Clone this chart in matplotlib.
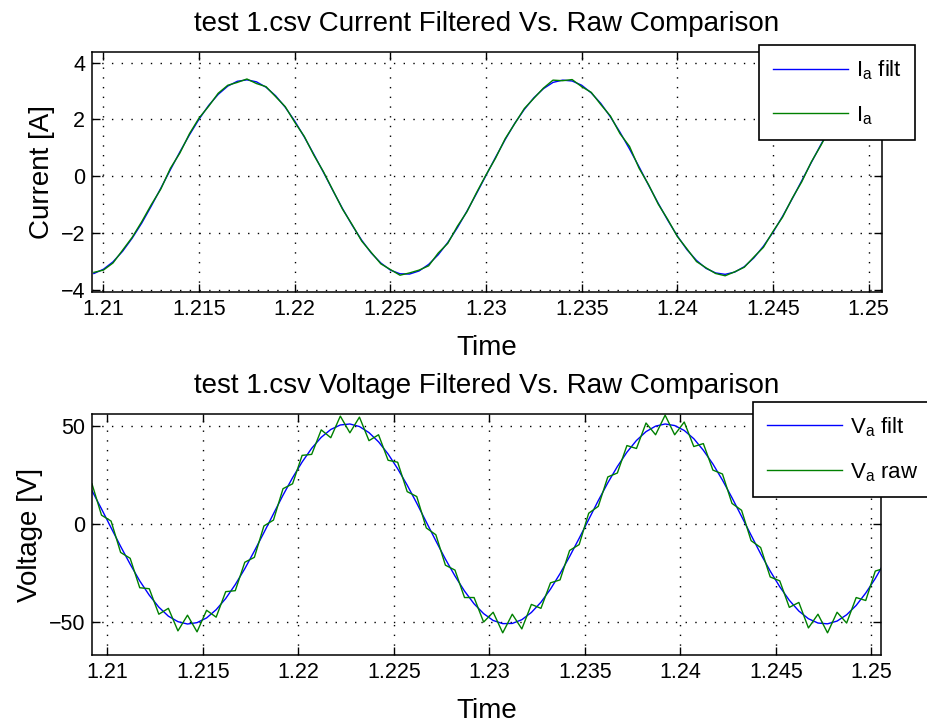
import numpy as np
import matplotlib
matplotlib.use("Agg")
import matplotlib.pyplot as plt

plt.rcParams['font.family'] = ['Liberation Sans', 'DejaVu Sans']

# current (top), sampled every 0.5 ms from t = 1.2095
I_t0 = 1.2095
I_filt = [-3.42, -3.27, -3.01, -2.64, -2.18, -1.65, -1.05, -0.42, 0.23, 0.86, 1.46, 2.01, 2.49, 2.88,
          3.17, 3.34, 3.39, 3.32, 3.13, 2.83, 2.43, 1.94, 1.38, 0.77, 0.14, -0.51, -1.14, -1.72,
          -2.25, -2.70, -3.05, -3.30, -3.43, -3.44, -3.33, -3.10, -2.76, -2.33, -1.81, -1.23, -0.61,
          0.03, 0.67, 1.29, 1.86, 2.35, 2.76, 3.08, 3.30, 3.38, 3.35, 3.20, 2.93, 2.56, 2.09, 1.55,
          0.96, 0.33, -0.32, -0.95, -1.55, -2.10, -2.58, -2.96, -3.24, -3.40, -3.45, -3.37, -3.18,
          -2.87, -2.46, -1.97, -1.41, -0.80, -0.16, 0.48, 1.11, 1.70, 2.22, 2.66, 3.01, 3.25, 3.38]
I_raw = [-3.38, -3.30, -3.05, -2.60, -2.15, -1.60, -1.00, -0.45, 0.28, 0.82, 1.50, 2.05, 2.46, 2.92,
         3.20, 3.30, 3.42, 3.26, 3.15, 2.80, 2.45, 1.90, 1.40, 0.74, 0.16, -0.50, -1.16, -1.70,
         -2.28, -2.68, -3.08, -3.28, -3.48, -3.40, -3.30, -3.15, -2.70, -2.36, -1.76, -1.25, -0.58,
         0.05, 0.64, 1.32, 1.85, 2.38, 2.74, 3.10, 3.38, 3.36, 3.40, 3.15, 2.95, 2.52, 2.12, 1.50,
         1.05, 0.28, -0.30, -0.98, -1.52, -2.12, -2.55, -3.00, -3.22, -3.42, -3.50, -3.36, -3.20,
         -2.84, -2.50, -1.94, -1.44, -0.78, -0.20, 0.50, 1.08, 1.72, 2.20, 2.68, 2.98, 3.27, 3.36]

# voltage (bottom), sampled every 0.5 ms from t = 1.2092
V_t0 = 1.2092
V_filt = [17.0, 7.7, -1.9, -11.4, -20.5, -29.0, -36.3, -42.4, -47.0, -49.8, -51.0, -50.3, -47.9, -43.7,
          -38.0, -30.9, -22.8, -13.8, -4.4, 5.2, 14.7, 23.6, 31.6, 38.6, 44.2, 48.2, 50.5, 51.0,
          49.7, 46.6, 41.9, 35.7, 28.2, 19.8, 10.6, 1.0, -8.6, -17.9, -26.5, -34.2, -40.7, -45.7,
          -49.2, -50.8, -50.7, -48.8, -45.1, -39.9, -33.2, -25.3, -16.6, -7.3, 2.3, 11.9, 21.0,
          29.3, 36.6, 42.6, 47.1, 49.9, 51.0, 50.2, 47.7, 43.5, 37.6, 30.6, 22.4, 13.4, 3.9, -5.7,
          -15.2, -24.0, -32.0, -38.9, -44.4, -48.3, -50.5, -50.9, -49.5, -46.3, -41.5, -35.2, -27.8, -19.2]
V_raw = [20.5, 4.5, 1.5, -14.5, -17.5, -32.5, -33.0, -46.0, -43.0, -54.5, -46.5, -55.0, -44.0, -47.5,
         -34.5, -34.0, -19.5, -17.0, -1.0, 2.0, 18.0, 20.5, 35.0, 35.5, 48.0, 44.0, 55.0, 46.5,
         54.5, 42.5, 45.5, 32.5, 31.5, 16.5, 14.0, -2.0, -5.5, -21.0, -23.5, -37.5, -37.5, -50.0,
         -45.0, -55.5, -46.0, -53.5, -41.0, -43.0, -30.0, -28.5, -13.5, -10.5, 5.5, 9.0, 24.0,
         26.0, 40.0, 38.5, 51.5, 45.5, 55.5, 45.5, 52.0, 39.5, 41.0, 27.5, 25.5, 10.5, 7.0, -8.5,
         -12.0, -27.0, -29.0, -42.5, -40.0, -53.0, -46.0, -55.5, -45.0, -50.5, -37.5, -39.0, -24.0, -22.5]

dt = 0.0005
I_t = I_t0 + dt * np.arange(len(I_filt))
V_t = V_t0 + dt * np.arange(len(V_filt))

x_ticks = [1.21, 1.215, 1.22, 1.225, 1.23, 1.235, 1.24, 1.245, 1.25]
x_labels = ['1.21', '1.215', '1.22', '1.225', '1.23', '1.235', '1.24', '1.245', '1.25']

fig = plt.figure(figsize=(9.27, 7.24), dpi=100)
ax1 = fig.add_axes([0.0992, 0.5967, 0.8523, 0.3315])
ax2 = fig.add_axes([0.0992, 0.0953, 0.8512, 0.3329])

blue = (0, 0, 1)
green = (0, 0.5, 0)


def style(ax):
    ax.set_xticks(x_ticks)
    ax.set_xticklabels(x_labels)
    ax.tick_params(direction='in', top=True, right=True, length=6, width=1, labelsize=15.5, pad=5)
    ax.grid(True, linestyle=(0, (1, 6)), color='black', linewidth=1.0)
    for s in ax.spines.values():
        s.set_linewidth(1.1)
    ax.set_xlabel('Time', fontsize=20, labelpad=11)


def legend(ax, anchor, loc):
    leg = ax.legend(loc=loc, bbox_to_anchor=anchor, borderaxespad=0,
                    fontsize=16, fancybox=False, edgecolor='black', framealpha=1,
                    handlelength=3.4, handletextpad=0.35, borderpad=0.6, labelspacing=1.0)
    leg.get_frame().set_linewidth(1.2)


ax1.plot(I_t, I_filt, color=blue, lw=1.0, label=r'$\mathregular{I_a}$ filt')
ax1.plot(I_t, I_raw, color=green, lw=1.0, label=r'$\mathregular{I_a}$')
ax1.set_xlim(1.2094, 1.2507)
ax1.set_ylim(-4.07, 4.37)
ax1.set_yticks([-4, -2, 0, 2, 4])
style(ax1)
ax1.set_ylabel('Current [A]', fontsize=20, labelpad=4)
ax1.set_title('test 1.csv Current Filtered Vs. Raw Comparison', fontsize=20, pad=15)
legend(ax1, (1.042, 1.029), 'upper right')

ax2.plot(V_t, V_filt, color=blue, lw=1.0, label=r'$\mathregular{V_a}$ filt')
ax2.plot(V_t, V_raw, color=green, lw=1.0, label=r'$\mathregular{V_a}$ raw')
ax2.set_xlim(1.2092, 1.2505)
ax2.set_ylim(-66.8, 56.1)
ax2.set_yticks([-50, 0, 50])
style(ax2)
ax2.set_ylabel('Voltage [V]', fontsize=20, labelpad=4)
ax2.set_title('test 1.csv Voltage Filtered Vs. Raw Comparison', fontsize=20, pad=15)
legend(ax2, (0.838, 1.05), 'upper left')

fig.savefig('out.png', dpi=100)
